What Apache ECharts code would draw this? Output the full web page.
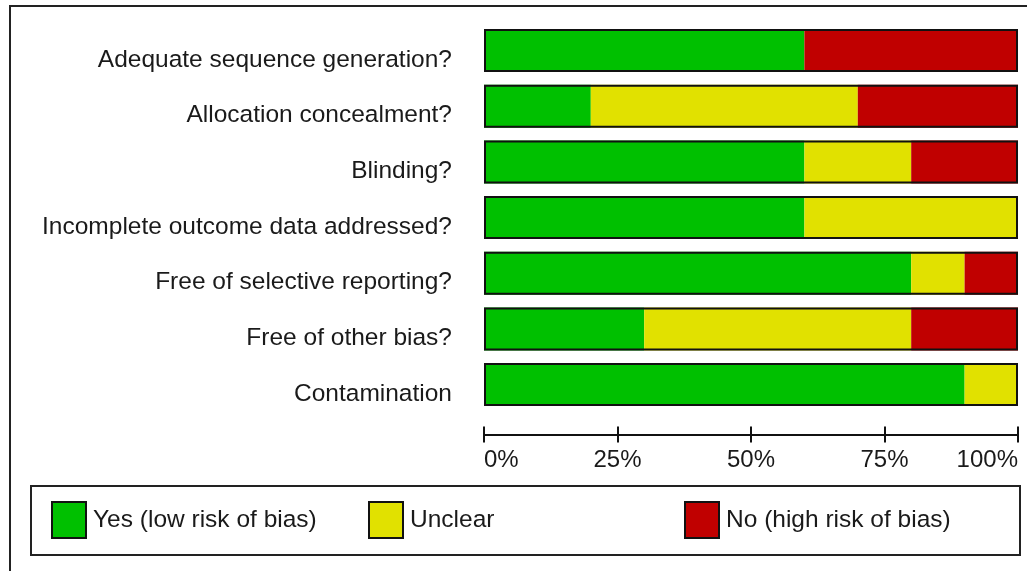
<!DOCTYPE html>
<html>
<head>
<meta charset="utf-8">
<script src="https://cdn.jsdelivr.net/npm/echarts@6/dist/echarts.min.js"></script>
<style>
html,body{margin:0;padding:0;background:#fff;}
#chart{width:1027px;height:571px;}
</style>
</head>
<body>
<div id="chart"></div>
<script>
var categories = [
  'Adequate sequence generation?',
  'Allocation concealment?',
  'Blinding?',
  'Incomplete outcome data addressed?',
  'Free of selective reporting?',
  'Free of other bias?',
  'Contamination'
];
var yesValues = [60, 20, 60, 60, 80, 30, 90];
var unclearValues = [0, 50, 20, 40, 10, 50, 10];
var noValues = [40, 30, 20, 0, 10, 20, 0];
var xTicks = [0, 25, 50, 75, 100];
var seriesNames = ['Yes (low risk of bias)', 'Unclear', 'No (high risk of bias)'];
var colors = ['#00C000', '#E1E100', '#C00000'];

var totals = categories.map(function (c, i) { return yesValues[i] + unclearValues[i] + noValues[i]; });

var FONT = '"Liberation Sans", Arial, sans-serif';
var chart = echarts.init(document.getElementById('chart'));

function seg(name, data, color) {
  return {
    name: name, type: 'bar', stack: 'risk', data: data, barWidth: 43, barGap: '-100%',
    itemStyle: { color: color, borderWidth: 0 }, silent: true, z: 2
  };
}

var option = {
  animation: false,
  backgroundColor: '#fff',
  grid: { left: 484, right: 9, top: 22.7, height: 389.7, containLabel: false },
  xAxis: [{
    type: 'value', min: 0, max: 100, interval: 25, position: 'bottom', offset: 22,
    axisLine: { show: true, lineStyle: { color: '#111', width: 2 } },
    axisTick: { show: true, length: 8, lineStyle: { color: '#111', width: 2 } },
    splitLine: { show: false },
    axisLabel: {
      formatter: function (v) { return xTicks.indexOf(v) >= 0 ? v + '%' : ''; },
      fontFamily: FONT, fontSize: 24, color: '#1a1a1a', margin: 14,
      alignMinLabel: 'left', alignMaxLabel: 'right', showMinLabel: true, showMaxLabel: true
    }
  }, {
    type: 'value', min: 0, max: 100, interval: 25, position: 'bottom', offset: 22,
    axisLine: { show: false },
    axisTick: { show: true, inside: true, length: 8, lineStyle: { color: '#111', width: 2 } },
    splitLine: { show: false },
    axisLabel: { show: false }
  }],
  yAxis: {
    type: 'category', data: categories, inverse: true,
    axisLine: { show: false }, axisTick: { show: false }, splitLine: { show: false },
    axisLabel: {
      margin: 32,
      formatter: function (v) { return '{t|' + v + '}'; },
      rich: { t: { fontFamily: FONT, fontSize: 24.5, color: '#1a1a1a', padding: [19, 0, 0, 0] } }
    }
  },
  legend: [0, 1, 2].map(function (i) {
    return {
      data: [seriesNames[i]], left: [51, 368, 684][i], top: 501,
      itemWidth: 34, itemHeight: 36, itemGap: 8, icon: 'rect',
      itemStyle: { borderColor: '#111', borderWidth: 2 },
      textStyle: { fontFamily: FONT, fontSize: 24.5, color: '#1a1a1a', padding: [0, 0, 0, 2] },
      selectedMode: false, padding: 0
    };
  }),
  graphic: [
    { type: 'rect', shape: { x: 10, y: 6, width: 1100, height: 700 }, style: { fill: 'none', stroke: '#222', lineWidth: 2 }, z: 0, silent: true },
    { type: 'rect', shape: { x: 31, y: 486, width: 989, height: 69 }, style: { fill: 'none', stroke: '#222', lineWidth: 2 }, z: 0, silent: true }
  ],
  series: [
    seg(seriesNames[0], yesValues, colors[0]),
    seg(seriesNames[1], unclearValues, colors[1]),
    seg(seriesNames[2], noValues, colors[2]),
    {
      name: 'outline', type: 'bar', data: totals, barWidth: 43, barGap: '-100%',
      itemStyle: { color: 'rgba(0,0,0,0)', borderColor: '#111', borderWidth: 2 },
      silent: true, z: 5
    }
  ]
};
chart.setOption(option);
</script>
</body>
</html>
